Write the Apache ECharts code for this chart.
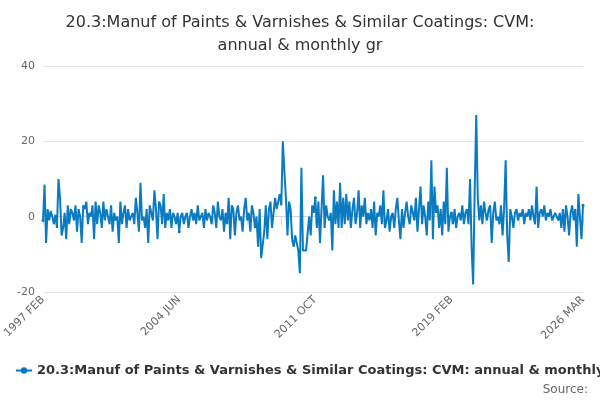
<!DOCTYPE html>
<html><head><meta charset="utf-8">
<script src="https://cdn.jsdelivr.net/npm/echarts@6/dist/echarts.min.js"></script>
<style>html,body{margin:0;padding:0;background:#fff}#c{width:600px;height:400px}</style>
</head><body><div id="c"></div>
<script>
const seriesName = '20.3:Manuf of Paints & Varnishes & Similar Coatings: CVM: annual & monthly gr';
const y1997 = [-1, 8.5, -7, 2, -1, 1.5, 0, -2, 0.5, -3, 10];
const y1998 = [5, -5, -3, 1, -6, 3, -2, 2, 1, -1, 3, -4];
const y1999 = [2, 0, -7, 3, 2, 4, -2, 1, 0, 3, -6, 4];
const y2000 = [-2, 3, 1, -3, 4, -1, 2, 0, -2, 3, -4, 1];
const y2001 = [-1, 0, -7, 4, -2, 1, 3, -3, 2, -1, 0, 1];
const y2002 = [-2, 5, 1, -4, 9, -1, 0, -3, 2, -7, 3, 1];
const y2003 = [-1, 7, 2, -6, 4, 3, -2, 6, -3, 1, -1, 2];
const y2004 = [-3, 1, 0, -2, 1, -4, 0, 1, -2, 0, 1, -3];
const y2005 = [0, 2, -1, 1, -2, 3, -1, 0, 1, -3, 2, -1];
const y2006 = [1, 0, -2, 3, 1, -3, 4, 0, -1, 2, -4, 1];
const y2007 = [-2, 5, -6, 3, 2, -5, 1, 3, -1, 0, -4, 2];
const y2008 = [5, -1, 1, -4, 3, 1, -3, 0, -8, 2, -11, -11];
const y2009 = [-4, 3, -6, 2, 4, -3, 1, 5, 2, 4, 6, 3];
const y2010 = [20, 12, 5, -5, 4, 2, -6, -8, -5, -7, -9, -15];
const y2011 = [13, -9, -9, -9, -9, 0, -5, 3, 1, 5, -3, 4];
const y2012 = [-7, 2, 11, -3, 3, 0, -1, 1, -9, 7, -2, 4];
const y2013 = [-3, 9, -3, 5, -2, 6, -1, 4, -3, 2, 5, -2];
const y2014 = [1, 7, -3, 3, 0, 5, -2, 1, -1, 2, -3, 4];
const y2015 = [-5, 1, 0, 3, -2, 7, -3, -1, 2, -4, 0, 1];
const y2016 = [-3, 2, 5, -1, -6, 2, -3, 1, 4, 0, -2, 3];
const y2017 = [1, -1, 5, -4, 2, 8, -2, 3, 0, -5, 4, -1];
const y2018 = [15, -6, 8, 1, 3, -3, 2, -5, 4, -2, 13, -4];
const y2019 = [0, 1, -2, 2, -3, 0, 1, -1, 3, -2, 1, 2];
const y2020 = [-2, 10, -8, -18, 7, 27, 5, -1, 3, -2, 4, 1];
const y2021 = [-1, 2, 3, -7, 1, 4, -1, 0, -2, 3, -5, 2];
const y2022 = [15, -5, -12, 2, 0, -3, 1, 2, -1, 1, 0, 2];
const y2023 = [-2, 1, 0, 2, -1, 3, 0, -2, 8, -3, 1, 2];
const y2024 = [0, 3, -1, 1, 0, 2, -1, 0, 1, 0, -1, 1];
const y2025 = [-3, 2, -4, 3, 0, -5, 1, 3, -1, 2, -8, 6];
const y2026 = [0, -6, 3];
const values = [].concat(y1997,y1998,y1999,y2000,y2001,y2002,y2003,y2004,y2005,y2006,y2007,y2008,y2009,y2010,y2011,y2012,y2013,y2014,y2015,y2016,y2017,y2018,y2019,y2020,y2021,y2022,y2023,y2024,y2025,y2026);
const monthNames = ['JAN','FEB','MAR','APR','MAY','JUN','JUL','AUG','SEP','OCT','NOV','DEC'];
const categories = values.map((v,i)=>{const m=i+1;return (1997+Math.floor(m/12))+' '+monthNames[m%12];});
const last = categories.length-1;
const chart = echarts.init(document.getElementById('c'));
chart.setOption({
  animation:false,
  title:{text:'20.3:Manuf of Paints & Varnishes & Similar Coatings: CVM:\nannual & monthly gr',left:'center',top:6,
    textStyle:{fontFamily:'DejaVu Sans',fontSize:16,fontWeight:'normal',color:'#333',lineHeight:23}},
  grid:{left:43,right:17,top:66,bottom:108},
  xAxis:{type:'category',data:categories,boundaryGap:false,
    axisLine:{lineStyle:{color:'#ccd6eb'}},
    axisTick:{interval:(i)=>i%22===0||i===last,length:8,lineStyle:{color:'#ccd6eb'}},
    axisLabel:{interval:(i)=>i%88===0||i===last,rotate:45,color:'#666',fontFamily:'DejaVu Sans',fontSize:11,margin:6}},
  yAxis:{type:'value',min:-20,max:40,interval:20,
    axisLabel:{color:'#666',fontFamily:'DejaVu Sans',fontSize:11},
    splitLine:{lineStyle:{color:'#e6e6e6'}}},
  legend:{bottom:18,left:10,itemWidth:16,itemHeight:8,
    textStyle:{fontFamily:'DejaVu Sans',fontSize:13,fontWeight:'bold',color:'#333'}},
  graphic:[{type:'text',right:12,bottom:4,style:{text:'Source:',fontFamily:'DejaVu Sans',fontSize:12,fill:'#666'}}],
  series:[{name:seriesName,type:'line',data:values,symbol:'circle',symbolSize:3,showSymbol:true,
    lineStyle:{width:2,color:'#0a7bc1'},itemStyle:{color:'#0a7bc1'}}]
});
</script></body></html>
